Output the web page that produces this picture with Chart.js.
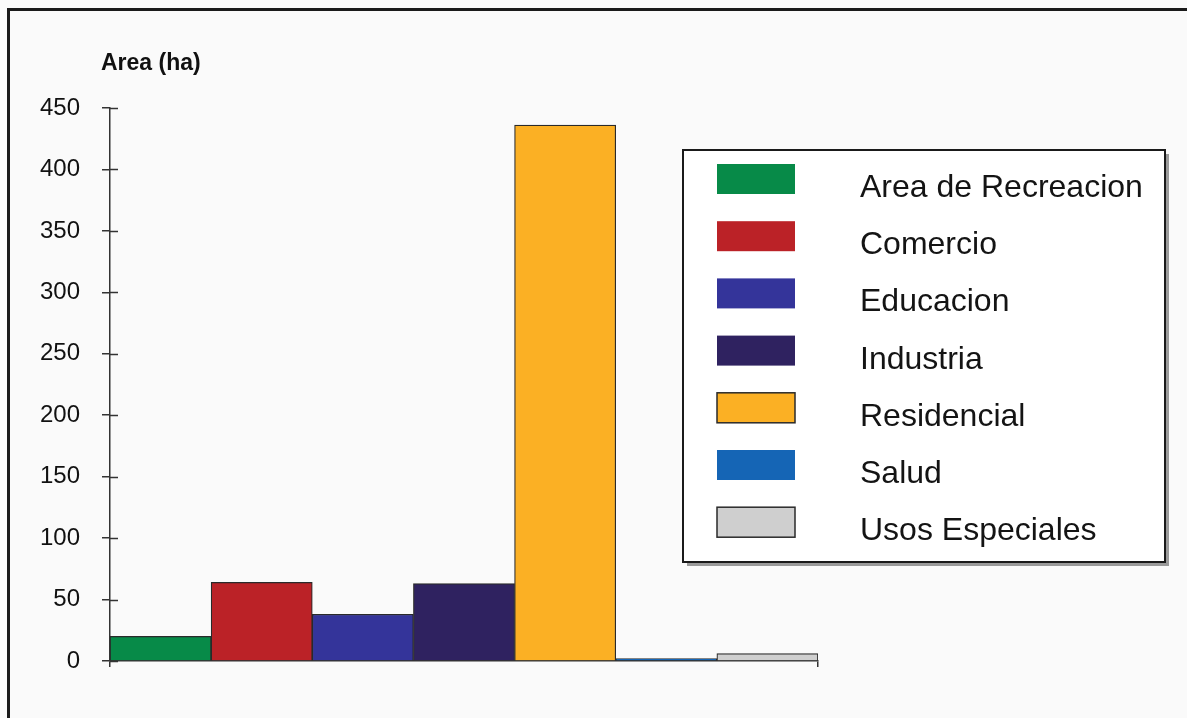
<!DOCTYPE html>
<html>
<head>
<meta charset="utf-8">
<script src="https://cdn.jsdelivr.net/npm/chart.js@4.4.1/dist/chart.umd.min.js"></script>
<style>
  html, body { margin: 0; padding: 0; background: #fafafa; }
  #wrap { position: relative; width: 1187px; height: 718px; }
</style>
</head>
<body>
<div id="wrap"><canvas id="usosChart" width="1187" height="718"></canvas></div>
<script>
// data
const usos = ["Area de Recreacion", "Comercio", "Educacion", "Industria", "Residencial", "Salud", "Usos Especiales"];
const areaHa = [20, 64, 38, 63, 436, 2, 6];
const colores = ["#078a48", "#bb2227", "#34349a", "#2f2260", "#fbb024", "#1565b5", "#cfcfcf"];
const yTicks = [0, 50, 100, 150, 200, 250, 300, 350, 400, 450];
const yTitle = "Area (ha)";

const FONT = "'Liberation Sans', Arial, sans-serif";

// frame, title, inner tick marks and the boxed legend
const decor = {
  id: "decor",
  beforeDraw(chart) {
    const c = chart.ctx;
    c.save();
    c.fillStyle = "#fafafa";
    c.fillRect(0, 0, chart.width, chart.height);
    c.strokeStyle = "#1a1a1a";
    c.lineWidth = 3;
    c.beginPath();
    c.moveTo(8.5, chart.height);
    c.lineTo(8.5, 9.5);
    c.lineTo(chart.width, 9.5);
    c.stroke();
    c.restore();
  },
  afterDraw(chart) {
    const c = chart.ctx;
    const y = chart.scales.y;
    const area = chart.chartArea;
    c.save();
    // ticks crossing the axis
    c.strokeStyle = "#333";
    c.lineWidth = 1.5;
    yTicks.forEach(v => {
      const py = Math.round(y.getPixelForValue(v)) + 0.5;
      c.beginPath();
      c.moveTo(area.left, py);
      c.lineTo(area.left + 8, py);
      c.stroke();
    });
    // axis title
    c.fillStyle = "#111";
    c.font = "bold 23px " + FONT;
    c.textBaseline = "alphabetic";
    c.fillText(yTitle, 101, 70);

    // legend box
    const bx = 683, by = 150, bw = 482, bh = 412;
    c.fillStyle = "#9a9a9a";
    c.fillRect(bx + 4, by + 4, bw, bh);
    c.fillStyle = "#ffffff";
    c.fillRect(bx, by, bw, bh);
    c.strokeStyle = "#1a1a1a";
    c.lineWidth = 2;
    c.strokeRect(bx, by, bw, bh);

    chart.data.datasets.forEach((ds, i) => {
      const top = 164 + i * 57.2;
      c.fillStyle = ds.backgroundColor;
      c.fillRect(717, top, 78, 30);
      if (i === 4 || i === 6) {
        c.strokeStyle = "#2a2a2a";
        c.lineWidth = 1.5;
        c.strokeRect(717, top, 78, 30);
      }
      c.fillStyle = "#141414";
      c.font = "32px " + FONT;
      c.fillText(ds.label, 860, top + 33);
    });
    c.restore();
  }
};

new Chart(document.getElementById("usosChart"), {
  type: "bar",
  data: {
    labels: [""],
    datasets: usos.map((u, i) => ({
      label: u,
      data: [areaHa[i]],
      backgroundColor: colores[i],
      borderColor: "#2a2a2a",
      borderWidth: 1.2,
      categoryPercentage: 1,
      barPercentage: 1
    }))
  },
  options: {
    responsive: false,
    animation: false,
    layout: { padding: { top: 108, right: 369, left: 0, bottom: 0 } },
    plugins: {
      legend: { display: false },
      tooltip: { enabled: false }
    },
    scales: {
      x: {
        offset: true,
        afterFit: s => { s.height = 57; },
        grid: { display: true, drawOnChartArea: false, offset: true, tickLength: 6, color: "#333", lineWidth: 1.5 },
        border: { display: true, color: "#333", width: 1.5 },
        ticks: { display: false }
      },
      y: {
        min: 0,
        max: 450,
        afterFit: s => { s.width = 110; },
        afterBuildTicks: s => { s.ticks = yTicks.map(v => ({ value: v })); },
        grid: { display: true, drawOnChartArea: false, tickLength: 8, color: "#333", lineWidth: 1.5 },
        border: { display: true, color: "#333", width: 1.5 },
        ticks: {
          color: "#111",
          padding: 22,
          font: { family: FONT, size: 24 }
        }
      }
    }
  },
  plugins: [decor]
});
</script>
</body>
</html>
